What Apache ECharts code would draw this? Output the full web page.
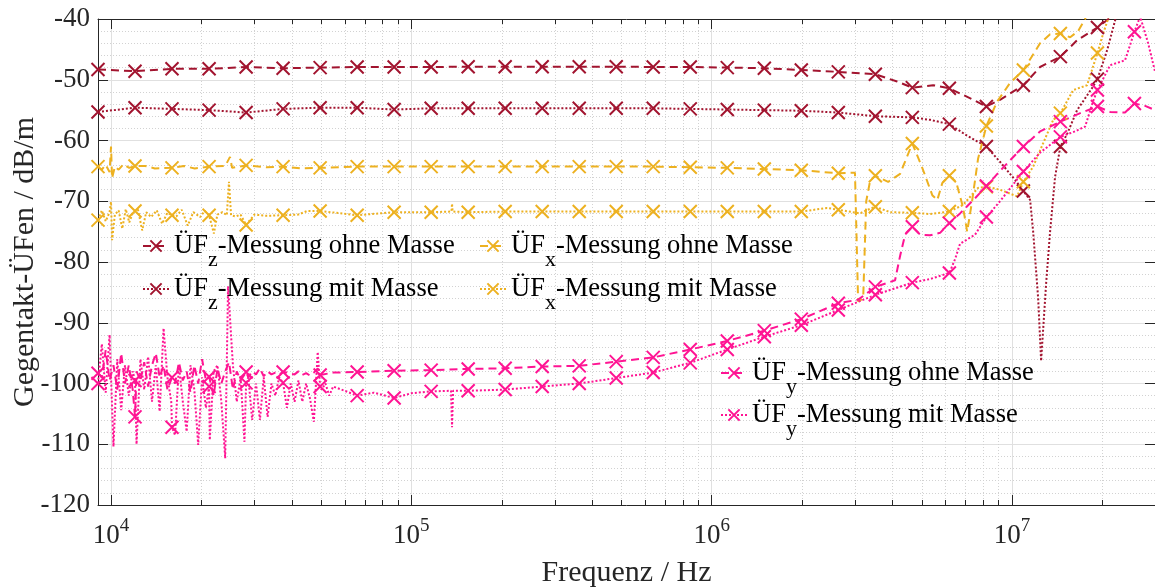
<!DOCTYPE html>
<html>
<head>
<meta charset="utf-8">
<script src="https://cdn.jsdelivr.net/npm/echarts@6/dist/echarts.min.js"></script>
<style>
html,body{margin:0;padding:0;background:#fff;}
#chart{width:1155px;height:587px;}
</style>
</head>
<body>
<div id="chart"></div>
<script>
// ---------- data ----------
const seriesNames = ['ÜFz-Messung ohne Masse', 'ÜFz-Messung mit Masse', 'ÜFx-Messung ohne Masse', 'ÜFx-Messung mit Masse', 'ÜFy-Messung ohne Masse', 'ÜFy-Messung mit Masse'];

// marker frequencies (Hz), shared by all curves
const markF = [9050, 12020, 15960, 21210, 28170, 37410, 49690, 66000, 87630, 116400, 154600, 205300, 272700, 362200, 481000, 638800, 848500, 1127000, 1497000, 1988000, 2640000, 3507000, 4657000, 6186000, 8216000, 10910000, 14490000, 19250000, 25560000];

const zOhneMarks = [-48.3, -48.6, -48.2, -48.2, -47.9, -48.1, -48.0, -47.9, -47.9, -47.9, -47.85, -47.85, -47.85, -47.85, -47.85, -47.9, -47.9, -48.0, -48.1, -48.4, -48.7, -49.1, -51.3, -51.4, -54.4, -50.9, -46.2, -41.4, null];
const zOhneLine = [[4144000, -50.3], [5460000, -50.9], [7420000, -53.3], [9120000, -53.3], [12400000, -47.9], [16470000, -43.5], [21210000, -39.8], [22050000, -38.5]];

const zMitMarks = [-55.3, -54.6, -54.8, -55.0, -55.4, -54.8, -54.6, -54.6, -54.9, -54.7, -54.7, -54.7, -54.7, -54.7, -54.7, -54.7, -54.8, -54.9, -55.0, -55.1, -55.4, -56.0, -56.2, -57.3, -61.0, -68.3, -61.0, -49.9, null];
const zMitLine = [[5338000, -56.6], [6980000, -59.0], [9120000, -63.5], [10240000, -66.5], [11490000, -69.8], [11760000, -75.0], [12220000, -86.0], [12500000, -96.3], [12990000, -83.5], [13390000, -75.0], [13910000, -66.0], [15300000, -58.8], [16470000, -55.0], [18630000, -51.1], [20750000, -45.1], [22050000, -40.2], [22900000, -37.5]];

const xOhneMarks = [-64.3, -64.2, -64.5, -64.3, -64.1, -64.3, -64.5, -64.3, -64.3, -64.3, -64.3, -64.3, -64.3, -64.3, -64.3, -64.3, -64.4, -64.5, -64.7, -64.9, -65.4, -65.8, -60.5, -65.8, -57.6, -48.4, -42.4, null, null];
const xOhneLine = [[9320, -64.8], [9600, -64.0], [9890, -65.2], [10000, -61.0], [10080, -66.2], [10300, -64.3], [10600, -64.8], [11000, -63.9], [11500, -64.5], [13000, -64.2], [14000, -64.6], [17500, -64.2], [19000, -64.6], [24000, -64.2], [24900, -62.7], [25300, -64.5], [33000, -64.4], [43000, -64.6],
  [3000000, -65.3], [3073000, -86.5], [3195000, -86.0], [3270000, -70.0], [3373000, -66.5], [3870000, -66.8], [4240000, -65.5], [5026000, -64.5], [5427000, -69.0], [5640000, -69.8], [5860000, -67.0], [6516000, -66.8], [6870000, -71.0], [7090000, -75.0], [7362000, -70.0], [7709000, -63.0], [8920000, -53.6], [9856000, -50.5], [12400000, -44.0], [13390000, -42.5], [15620000, -43.0], [16600000, -42.0], [17520000, -40.0], [18200000, -37.0]];

const xMitMarks = [-73.1, -71.6, -72.3, -72.3, -73.9, -72.3, -71.6, -72.3, -71.8, -71.8, -71.8, -71.7, -71.7, -71.7, -71.7, -71.7, -71.7, -71.7, -71.7, -71.7, -71.4, -70.9, -71.9, -71.7, -67.6, -66.8, -55.5, -45.6, null];
const xMitLine = [[9320, -71.5], [9600, -73.3], [9890, -71.8], [10000, -70.1], [10080, -76.4], [10300, -72.2], [10600, -71.5], [10900, -74.5], [11200, -71.3], [11500, -73.5], [11800, -72.0], [12300, -71.4], [12700, -74.8], [13100, -71.8], [13600, -72.6], [14200, -71.5], [14800, -73.7], [15400, -71.9], [16500, -72.5], [17200, -71.4], [18000, -74.0], [18800, -71.8], [19800, -72.6], [20500, -71.6], [22000, -75.3], [22600, -72.2], [23500, -71.8], [24300, -72.3], [24700, -66.8], [25100, -72.3], [26000, -72.5], [27000, -72.2], [30000, -72.2], [33000, -72.4], [42000, -72.2], [45000, -71.6],
  [136000, -71.7], [136600, -70.4], [137200, -71.7], [2423000, -71.1], [3121000, -72.0], [3270000, -71.5], [3930000, -71.8], [5338000, -72.1], [6870000, -70.6], [7709000, -67.8], [9120000, -68.1], [10400000, -69.2], [11760000, -64.3], [13710000, -56.6], [15980000, -51.7], [17780000, -50.9], [20110000, -42.4], [20890000, -40.0], [21540000, -38.0]];

const yOhneMarks = [-98.3, -105.5, -99.0, -98.9, -98.1, -98.1, -98.6, -98.1, -97.9, -97.8, -97.6, -97.5, -97.2, -97.1, -96.4, -95.7, -94.4, -93.0, -91.3, -89.4, -86.8, -84.1, -74.2, -73.6, -67.5, -61.0, -56.9, -54.4, -53.9];
const yOhneLine = [[9320, -99], [9600, -94.5], [9890, -99.5], [10190, -97], [10490, -101], [10810, -95], [11130, -100], [11460, -97], [11810, -101], [12160, -98], [12530, -99.5], [12900, -96.5], [13290, -100.5], [13690, -97], [14100, -95], [14520, -99], [14960, -97], [15410, -101], [16340, -100], [16830, -96.5], [17340, -99.5], [17860, -98], [18390, -101.5], [18940, -97], [19510, -100], [20100, -96], [20700, -99.5], [21960, -102], [22620, -97.5], [23300, -100], [24000, -98], [24720, -96.5], [25460, -101], [26220, -98], [27010, -99.5], [28650, -99], [29510, -98], [30400, -98.5], [31310, -97.5], [32250, -98.8], [33220, -98], [34210, -98.5], [35240, -98.2], [36300, -98.5], [38510, -98.2], [39660, -98.4], [40850, -98.5], [42080, -98], [43340, -98.6], [44640, -98.3], [45980, -98.7], [47360, -98.2], [48780, -97.5], [50240, -98.3], [55000, -98.2],
  [3073000, -86.2], [4080000, -83.0], [4240000, -79.0], [4406000, -75.5], [4940000, -75.5], [5337000, -75.6], [5762000, -75.2], [6714000, -72.0], [7534000, -69.5], [9120000, -65.0], [12400000, -58.5], [16870000, -55.5], [21210000, -55.3], [23790000, -55.4], [27750000, -54.3], [29950000, -55.0]];

const yMitMarks = [-100.0, -99.5, -107.2, -100.5, -99.9, -99.9, -100.5, -102.0, -102.4, -101.3, -101.2, -101.0, -100.5, -100.0, -99.1, -98.2, -96.6, -94.4, -92.3, -90.4, -87.9, -85.4, -83.4, -81.8, -72.6, -65.1, -59.4, -51.7, -42.1];
const yMitLine = [[9320, -93.5], [9600, -101.5], [9890, -92.0], [10190, -110.4], [10490, -96], [10810, -104.4], [11130, -97], [11460, -102], [11810, -98], [12160, -110.0], [12530, -96], [12900, -101], [13290, -95.6], [13690, -103], [14100, -97], [14520, -104.6], [14960, -90.9], [15410, -99], [15870, -103], [16340, -108.5], [16830, -97], [17340, -103], [17860, -107.9], [18390, -97], [18940, -101], [19510, -110.1], [20100, -99], [20700, -104], [21320, -109.3], [21960, -98], [22620, -97], [23300, -103], [24000, -112.3], [24530, -84.0], [25460, -97], [26220, -103], [27010, -99], [27820, -109.6], [28650, -99], [29510, -106], [30400, -100], [31310, -106], [32250, -99], [33220, -105.5], [34210, -100], [35240, -102], [36300, -99], [38510, -104], [39660, -100], [40850, -103], [42080, -99.5], [43340, -103], [44640, -100], [45980, -102.5], [47360, -106.3], [48780, -94.8], [50240, -101], [51750, -100], [53300, -102], [54900, -100.5],
  [60000, -101.2], [75000, -101.5], [100000, -101.6], [135500, -101.2], [136600, -107.2], [137700, -101.2],
  [5338000, -82.8], [6466000, -79.5], [6714000, -77.0], [7534000, -75.5], [9120000, -70.0], [12400000, -62.0], [16220000, -58.5], [17520000, -57.7], [18630000, -53.5], [21210000, -47.6], [23790000, -46.8], [26710000, -39.6], [28400000, -44.0], [29950000, -48.7]];

// minor x grid / tick positions
const minorTicks = [20000, 30000, 40000, 50000, 60000, 70000, 80000, 90000, 200000, 300000, 400000, 500000, 600000, 700000, 800000, 900000, 2000000, 3000000, 4000000, 5000000, 6000000, 7000000, 8000000, 9000000, 20000000];

// ---------- styling ----------
const FONT = "'Liberation Serif', 'Times New Roman', serif";
const AX = '#262626';
const colZ = '#A2142F', colX = '#EDB120', colY = '#FF1493';
const XSYM = 'path://M0,0L10,10M0,10L10,0';

function build(line, marks) {
  const pts = line.map(p => ({ value: p, symbol: 'none' }));
  marks.forEach((v, i) => { if (v !== null) pts.push({ value: [markF[i], v] }); });
  pts.sort((a, b) => a.value[0] - b.value[0]);
  return pts;
}

function mkSeries(name, color, dash, line, marks) {
  return {
    name, type: 'line', data: build(line, marks),
    symbol: XSYM, symbolSize: 13, showSymbol: true, showAllSymbol: true,
    itemStyle: { color: color, borderColor: color, borderWidth: 2 },
    lineStyle: { color: color, width: 2, type: dash },
    emphasis: { disabled: true }, z: 3, clip: true
  };
}

const DASH = [8, 5], DOT = [2, 2];
const series = [
  mkSeries(seriesNames[0], colZ, DASH, zOhneLine, zOhneMarks),
  mkSeries(seriesNames[1], colZ, DOT, zMitLine, zMitMarks),
  mkSeries(seriesNames[2], colX, DASH, xOhneLine, xOhneMarks),
  mkSeries(seriesNames[3], colX, DOT, xMitLine, xMitMarks),
  mkSeries(seriesNames[4], colY, DASH, yOhneLine, yOhneMarks),
  mkSeries(seriesNames[5], colY, DOT, yMitLine, yMitMarks),
  {
    type: 'custom', z: 1, silent: true, clip: false,
    data: minorTicks.map(f => [f, -120]),
    encode: { x: 0, y: 1 },
    renderItem: function (params, api) {
      const f = api.value(0);
      const b = api.coord([f, -120]);
      const t = api.coord([f, -40]);
      const x = Math.round(b[0]) + 0.5;
      return {
        type: 'group', children: [
          { type: 'line', shape: { x1: x, y1: b[1], x2: x, y2: t[1] }, style: { stroke: '#d2d2d2', lineWidth: 1, lineDash: [1, 2] } },
          { type: 'line', shape: { x1: x, y1: b[1], x2: x, y2: b[1] - 5 }, style: { stroke: AX, lineWidth: 1 } },
          { type: 'line', shape: { x1: x, y1: t[1], x2: x, y2: t[1] + 5 }, style: { stroke: AX, lineWidth: 1 } }
        ]
      };
    }
  }
];

function legendFmt(name) { return name.replace(/^ÜF(.)/, 'ÜF{sub|$1}'); }
function mkLegend(name, left, rowY) {
  return {
    data: [name], left: left, top: rowY - 11.5, orient: 'vertical', padding: 0,
    itemWidth: 26, itemHeight: 14, selectedMode: false, formatter: legendFmt,
    textStyle: { fontFamily: FONT, fontSize: 26.5, color: '#000', rich: { sub: { fontFamily: FONT, fontSize: 22, color: '#000', padding: [28, 0, 0, 0] } } }
  };
}

const option = {
  backgroundColor: '#fff',
  animation: false,
  grid: { left: 98, right: 0, top: 19, bottom: 82, containLabel: false, outerBoundsMode: 'none' },
  legend: [
    mkLegend(seriesNames[0], 142, 244), mkLegend(seriesNames[1], 142, 287),
    mkLegend(seriesNames[2], 479, 244), mkLegend(seriesNames[3], 479, 287),
    mkLegend(seriesNames[4], 720, 371), mkLegend(seriesNames[5], 720, 413)
  ],
  xAxis: [
    {
      type: 'log', logBase: 10, min: 9050, max: 29930000, position: 'bottom',
      axisLine: { show: true, lineStyle: { color: AX, width: 1 } },
      axisTick: { show: true, inside: true, length: 10, lineStyle: { color: AX } },
      minorTick: { show: false },
      axisLabel: {
        margin: 12, color: AX, fontFamily: FONT, fontSize: 27,
        formatter: function (v) {
          const e = Math.round(Math.log10(v));
          if (Math.abs(v - Math.pow(10, e)) / v > 1e-6) return '';
          return '10{sup|' + e + '}';
        },
        rich: { sup: { fontFamily: FONT, fontSize: 19, color: AX, padding: [0, 0, 18, 0] } }
      },
      splitLine: { show: true, lineStyle: { color: '#e0e0e0', width: 1 } },
      name: 'Frequenz / Hz', nameLocation: 'middle', nameGap: 53, nameMoveOverlap: false,
      nameTextStyle: { fontFamily: FONT, fontSize: 30, color: AX }
    },
    {
      type: 'log', logBase: 10, min: 9050, max: 29930000, position: 'top',
      axisLine: { show: true, lineStyle: { color: AX, width: 1 } },
      axisTick: { show: true, inside: true, length: 10, lineStyle: { color: AX } },
      axisLabel: { show: false }, splitLine: { show: false }
    }
  ],
  yAxis: [
    {
      type: 'value', min: -120, max: -40, interval: 10, position: 'left',
      axisLine: { show: true, lineStyle: { color: AX, width: 1 } },
      axisTick: { show: true, inside: true, length: 10, lineStyle: { color: AX } },
      axisLabel: { margin: 8, color: AX, fontFamily: FONT, fontSize: 27 },
      splitLine: { show: true, lineStyle: { color: '#e0e0e0', width: 1 } },
      minorTick: { show: false, splitNumber: 5 },
      minorSplitLine: { show: true, lineStyle: { color: '#d2d2d2', width: 1, type: [1, 2] } },
      name: 'Gegentakt-ÜFen / dB/m', nameLocation: 'middle', nameGap: 58, nameRotate: 90, nameMoveOverlap: false,
      nameTextStyle: { fontFamily: FONT, fontSize: 30, color: AX }
    },
    {
      type: 'value', min: -120, max: -40, interval: 10, position: 'right',
      axisLine: { show: true, lineStyle: { color: AX, width: 1 } },
      axisTick: { show: true, inside: true, length: 10, lineStyle: { color: AX } },
      axisLabel: { show: false }, splitLine: { show: false }
    }
  ],
  series: series
};

const chart = echarts.init(document.getElementById('chart'), null, { renderer: 'canvas' });
chart.setOption(option);
</script>
</body>
</html>
